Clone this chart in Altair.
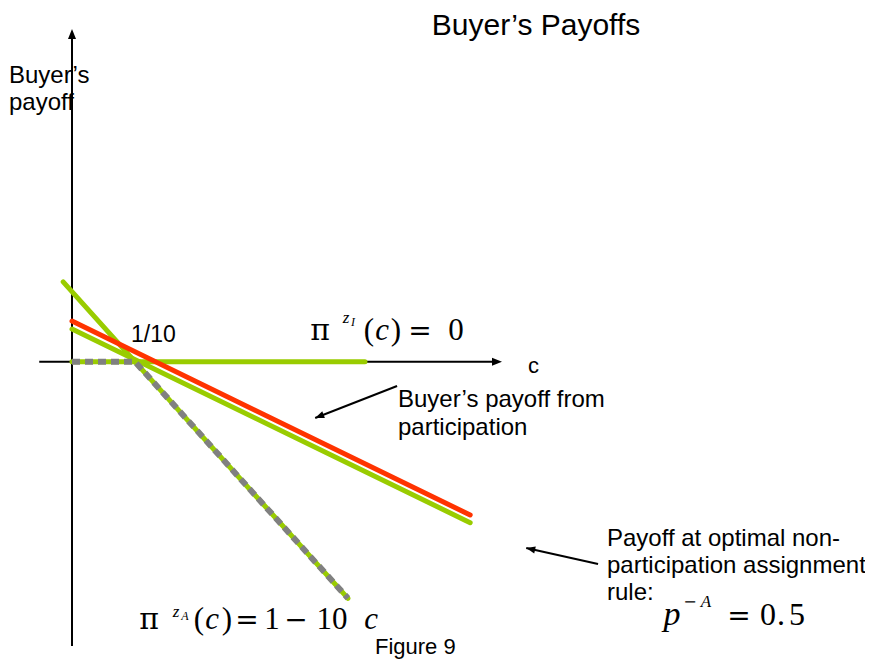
import altair as alt
import pandas as pd

# ---- values (c on x, buyer's payoff on y) ----
steep_c = [-0.014, 0.438]          # pi^{zA}(c) = 1 - 10c
steep_p = [1.14, -3.38]
zero_c = [0.0, 0.465]              # pi^{zI}(c) = 0
zero_p = [0.0, 0.0]
part_green_c = [0.0, 0.632]        # payoff from participation (green)
part_green_p = [0.467, -2.30]
part_red_c = [0.0, 0.632]          # payoff from participation (red)
part_red_p = [0.581, -2.19]
env_c = [0.0, 0.1, 0.438]          # optimal non-participation payoff (dashed)
env_p = [0.0, 0.0, -3.38]

# axis extents and annotation arrows (data units)
xaxis_c = [-0.052, 0.667]
xtip = [0.6825, 0.0]
yaxis_p = [-4.06, 4.61]
ytip = [0.0, 4.753]
arrow1 = [0.516, -0.347, 0.386, -0.804]   # tail c, tail p, tip c, tip p
arrow2 = [0.835, -2.89, 0.721, -2.661]

W, H = 857, 651
X = alt.Scale(domain=[-0.10159, 1.25873], nice=False, zero=False)
Y = alt.Scale(domain=[-4.2471, 5.0529], nice=False, zero=False)
SANS = "Liberation Sans"
SERIF = "Liberation Serif"
MATH = "DejaVu Serif"
GREEN = "#99CC00"
RED = "#FF3300"
GRAY = "#808080"


def xe(f):
    return alt.X(f, type="quantitative", scale=X, axis=None)


def ye(f):
    return alt.Y(f, type="quantitative", scale=Y, axis=None)


def line(cs, ps, color, width=5, dash=None, cap="round"):
    df = pd.DataFrame({"c": cs, "p": ps})
    kw = dict(color=color, strokeWidth=width, strokeCap=cap)
    if dash:
        kw["strokeDash"] = dash
    return alt.Chart(df).mark_line(**kw).encode(x=xe("c"), y=ye("p"))


def rule(x1, y1, x2, y2, w=2):
    df = pd.DataFrame({"x": [x1], "y": [y1], "x2": [x2], "y2": [y2]})
    return alt.Chart(df).mark_rule(color="black", strokeWidth=w).encode(
        x=xe("x"), y=ye("y"), x2="x2:Q", y2="y2:Q")


def head(cx, py, path, size, angle=0):
    df = pd.DataFrame({"x": [cx], "y": [py]})
    return alt.Chart(df).mark_point(shape=path, size=size, filled=True, color="black",
                                    opacity=1, strokeWidth=0, angle=angle).encode(
        x=xe("x"), y=ye("y"))


one = pd.DataFrame({"k": [0]})


def txt(s, x, y, size, font=SANS, style="normal", align="left"):
    return alt.Chart(one).mark_text(text=s, align=align, baseline="alphabetic",
                                    fontSize=size, font=font, fontStyle=style,
                                    color="black").encode(
        x=alt.value(x - 8), y=alt.value(y - 8))


def ctr(s, x, y, size, font=SERIF, style="normal"):
    return txt(s, x, y, size, font, style, align="center")


layers = [
    rule(xaxis_c[0], 0.0, xaxis_c[1], 0.0),
    rule(0.0, yaxis_p[0], 0.0, yaxis_p[1]),
    head(xtip[0], xtip[1], "M0,0L-2,-0.8L-2,0.8Z", 100),
    head(ytip[0], ytip[1], "M0,0L-0.8,2L0.8,2Z", 100),
    line(steep_c, steep_p, GREEN),
    line(zero_c, zero_p, GREEN),
    line(part_green_c, part_green_p, GREEN),
    line(part_red_c, part_red_p, RED),
    line(env_c, env_p, GRAY, width=6, dash=[8, 5], cap="butt"),
    rule(arrow1[0], arrow1[1], arrow1[2], arrow1[3], w=2),
    head(arrow1[2], arrow1[3], "M0,0L2,-0.8L2,0.8Z", 81, angle=338.7),
    rule(arrow2[0], arrow2[1], arrow2[2], arrow2[3], w=2),
    head(arrow2[2], arrow2[3], "M0,0L2,-0.8L2,0.8Z", 81, angle=12.5),
    # texts
    txt("Buyer’s Payoffs", 536, 35, 30, align="center"),
    txt("Buyer’s", 9, 83, 24),
    txt("payoff", 9, 110, 24),
    txt("1/10", 131, 342, 23),
    txt("c", 528, 373, 22),
    txt("Buyer’s payoff from", 398, 407, 24),
    txt("participation", 398, 435, 24),
    txt("Payoff at optimal non-", 607, 546, 24),
    txt("participation assignment", 607, 573, 24),
    txt("rule:", 607, 600, 24),
    txt("Figure 9", 375, 654, 22),
    # formula 1: pi^{z_I}(c) = 0
    ctr("π", 320, 340, 30, MATH),
    ctr("z", 346, 323, 17, SERIF, "italic"),
    ctr("I", 353, 326, 12, SERIF, "italic"),
    ctr("(", 369, 340, 31),
    ctr("c", 382, 340, 31, SERIF, "italic"),
    ctr(")", 396, 340, 31),
    ctr("=", 420, 340, 28, MATH),
    ctr("0", 456, 340, 31),
    # formula 2: pi^{z_A}(c) = 1 - 10c
    ctr("π", 149, 629, 30, MATH),
    ctr("z", 176, 617, 17, SERIF, "italic"),
    ctr("A", 185, 620, 12, SERIF, "italic"),
    ctr("(", 199, 629, 31),
    ctr("c", 212, 629, 31, SERIF, "italic"),
    ctr(")", 227, 629, 31),
    ctr("=", 247, 629, 28, MATH),
    ctr("1", 272, 629, 31),
    ctr("−", 296, 629, 28, MATH),
    ctr("10", 332, 629, 31),
    ctr("c", 371, 629, 31, SERIF, "italic"),
    # formula 3: p^{-A} = 0.5
    ctr("p", 672, 625, 34, SERIF, "italic"),
    ctr("−", 690, 607, 16, MATH),
    ctr("A", 706, 607, 17, SERIF, "italic"),
    ctr("=", 739, 625, 28, MATH),
    ctr("0", 768, 625, 32),
    ctr(".", 781, 625, 32),
    ctr("5", 797, 625, 32),
]

chart = alt.layer(*layers).properties(
    width=W, height=H, padding=0, autosize="none"
).configure_view(stroke=None)

chart.save("out.html", embed_options={"renderer": "svg", "actions": False})
